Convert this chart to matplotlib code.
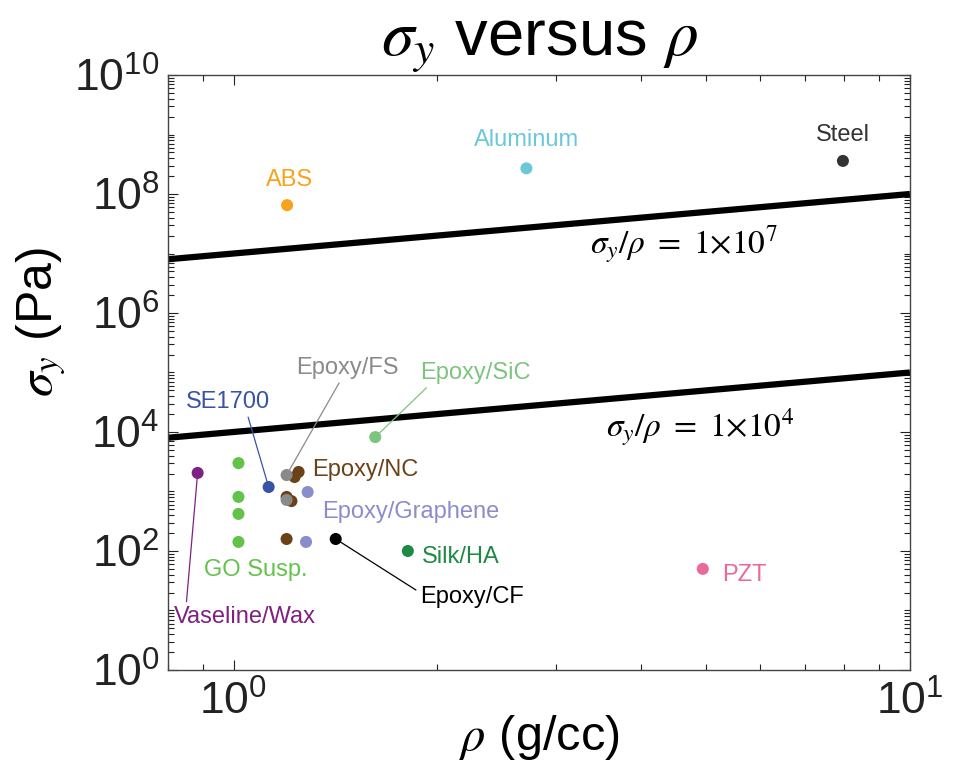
import numpy as np
import matplotlib
matplotlib.use('Agg')
import matplotlib.pyplot as plt
from matplotlib.ticker import LogLocator, NullFormatter, FixedLocator

plt.rcParams['font.family'] = ['Liberation Sans', 'DejaVu Sans']
plt.rcParams['mathtext.fontset'] = 'stix'

# density (g/cc) and yield stress (Pa) per material
abs_rho, abs_sig = [1.20], [6.5e7]
al_rho, al_sig = [2.71], [2.7e8]
steel_rho, steel_sig = [7.96], [3.6e8]
sic_rho, sic_sig = [1.62], [8.2e3]
wax_rho, wax_sig = [0.885], [2.05e3]
go_rho, go_sig = [1.017, 1.017, 1.017, 1.017], [3.0e3, 810, 420, 142]
se_rho, se_sig = [1.127], [1190]
fs_rho, fs_sig = [1.198, 1.198], [1890, 720]
nc_rho, nc_sig = [1.248, 1.231, 1.198, 1.218, 1.198], [2130, 1750, 810, 690, 159]
gr_rho, gr_sig = [1.287, 1.28], [980, 142]
cf_rho, cf_sig = [1.416], [159]
silk_rho, silk_sig = [1.81], [100]
pzt_rho, pzt_sig = [4.94], [50]

ratios = [1e7, 1e4]
rho_line = np.array([0.8, 10])

fig = plt.figure(figsize=(9.67, 7.67), dpi=100)
ax = fig.add_axes([0.1737, 0.1265, 0.7673, 0.7757])

for k in ratios:
    ax.plot(rho_line, k * rho_line, color='black', lw=4.5, solid_capstyle='butt', zorder=2)

ms = 75
series = [
    (abs_rho, abs_sig, '#F7A21B'),
    (al_rho, al_sig, '#6CC8D8'),
    (steel_rho, steel_sig, '#333333'),
    (sic_rho, sic_sig, '#7DC47F'),
    (wax_rho, wax_sig, '#7E2182'),
    (go_rho, go_sig, '#63C24A'),
    (se_rho, se_sig, '#3853A6'),
    (nc_rho, nc_sig, '#6B4218'),
    (fs_rho, fs_sig, '#8A8A8A'),
    (gr_rho, gr_sig, '#8A8DCC'),
    (cf_rho, cf_sig, '#000000'),
    (silk_rho, silk_sig, '#1E8A44'),
    (pzt_rho, pzt_sig, '#E8699A'),
]
for r, s, c in series:
    ax.scatter(r, s, s=ms, color=c, edgecolors='none', zorder=3)

fs = 17
# plain labels
ax.text(1.21, 1.7e8, 'ABS', color='#F7A21B', fontsize=fs, ha='center', va='center')
ax.text(2.71, 8.1e8, 'Aluminum', color='#6CC8D8', fontsize=fs, ha='center', va='center')
ax.text(7.96, 9.8e8, 'Steel', color='#333333', fontsize=fs, ha='center', va='center')
ax.text(1.309, 2.3e3, 'Epoxy/NC', color='#6B4218', fontsize=fs, ha='left', va='center')
ax.text(1.354, 452, 'Epoxy/Graphene', color='#8A8DCC', fontsize=fs, ha='left', va='center')
ax.text(1.897, 79, 'Silk/HA', color='#1E8A44', fontsize=fs, ha='left', va='center')
ax.text(1.078, 48, 'GO Susp.', color='#63C24A', fontsize=fs, ha='center', va='center')
ax.text(5.27, 39.5, 'PZT', color='#E8699A', fontsize=fs, ha='left', va='center')

# labels with leader lines
def lead(label, pt, txt, color, rel, ha='center'):
    ax.annotate(label, xy=pt, xytext=txt, color=color, fontsize=fs,
                ha=ha, va='center',
                arrowprops=dict(arrowstyle='-', color=color, lw=0.9,
                                relpos=rel, shrinkA=1, shrinkB=3))

lead('Epoxy/SiC', (sic_rho[0], sic_sig[0]), (2.28, 9.8e4), '#7DC47F', (0.09, 0.0))
lead('SE1700', (se_rho[0], se_sig[0]), (0.98, 3.19e4), '#3853A6', (0.73, 0.0))
lead('Epoxy/FS', (fs_rho[0], fs_sig[0]), (1.474, 1.19e5), '#8A8A8A', (0.44, 0.0))
lead('Vaseline/Wax', (wax_rho[0], wax_sig[0]), (1.04, 7.8), '#7E2182', (0.085, 1.0))
lead('Epoxy/CF', (cf_rho[0], cf_sig[0]), (2.25, 16.9), '#000000', (0.0, 0.7))

ax.text(4.63, 1.39e7, r'$\sigma_y/\rho\ =\ 1{\times}10^7$', fontsize=24, ha='center', va='center')
ax.text(4.89, 1.17e4, r'$\sigma_y/\rho\ =\ 1{\times}10^4$', fontsize=24, ha='center', va='center')

ax.set_xscale('log')
ax.set_yscale('log')
ax.set_xlim(0.8, 10)
ax.set_ylim(1, 1e10)

ax.yaxis.set_major_locator(FixedLocator([10.0 ** i for i in range(0, 11, 2)]))
ax.set_yticklabels([r'$\mathregular{10^{%d}}$' % i for i in range(0, 11, 2)])
ax.yaxis.set_minor_locator(LogLocator(base=10, subs=np.arange(1, 10), numticks=50))
ax.yaxis.set_minor_formatter(NullFormatter())
ax.xaxis.set_major_locator(FixedLocator([1, 10]))
ax.set_xticklabels([r'$\mathregular{10^{0}}$', r'$\mathregular{10^{1}}$'])
ax.xaxis.set_minor_locator(LogLocator(base=10, subs=np.arange(2, 10), numticks=10))
ax.xaxis.set_minor_formatter(NullFormatter())

ax.tick_params(which='both', direction='in', top=True, right=True, labelsize=32, width=0.8,
               colors='#222222')
ax.tick_params(which='major', length=7)
ax.tick_params(which='minor', length=4)
ax.tick_params(axis='x', which='major', pad=8)
ax.tick_params(axis='y', which='major', pad=6)
for sp in ax.spines.values():
    sp.set_linewidth(1.0)
    sp.set_color('#444444')

ax.set_xlabel(r'$\rho$ (g/cc)', fontsize=35, labelpad=-8)
ax.set_ylabel(r'$\sigma_y$ (Pa)', fontsize=36)
ax.yaxis.set_label_coords(-0.135, 0.585)
ax.set_title(r'$\sigma_y$ versus $\rho$', fontsize=47, pad=12)

fig.savefig('out.png', dpi=100)
